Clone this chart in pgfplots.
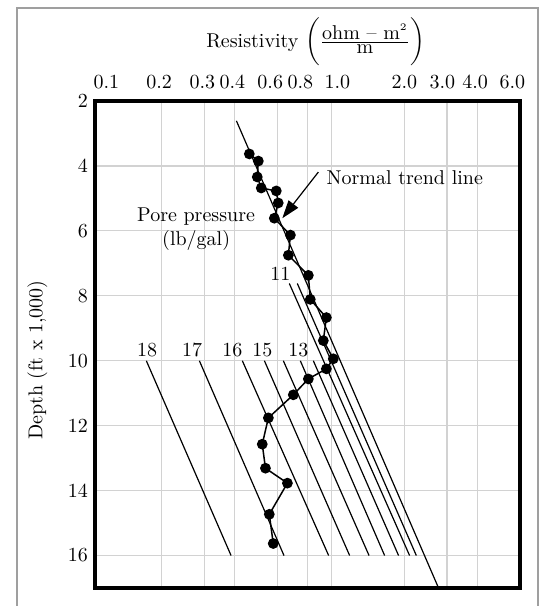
\documentclass[border=0pt]{standalone}
\usepackage{amsmath}
\usepackage{pgfplots}
\pgfplotsset{compat=1.18}
\usetikzlibrary{arrows.meta}
\begin{document}
\begin{tikzpicture}
\useasboundingbox (-47.5pt,-9pt) rectangle (226pt,294pt);
\draw[gray!75, line width=0.8pt] (-39pt,-20pt) -- (-39pt,290pt) -- (221.5pt,290pt) -- (221.5pt,-20pt);
\begin{axis}[
  at={(0,0)}, anchor=south west,
  scale only axis, width=212.5pt, height=243.5pt,
  xmode=log, xmin=0.106, xmax=6.0,
  ymin=2, ymax=17, y dir=reverse,
  xtick={0.2,0.3,0.4,0.6,0.8,1,2,3,4}, xticklabels={},
  extra x ticks={0.118,0.195,0.294,0.391,0.560,0.745,1.059,2.0,2.87,3.92,5.58},
  extra x tick labels={0.1,0.2,0.3,0.4,0.6,0.8,1.0,2.0,3.0,4.0,6.0},
  extra x tick style={grid=none, major tick length=0pt},
  xticklabel pos=upper,
  xticklabel style={yshift=2.5pt},
  ytick={2,4,6,8,10,12,14,16},
  grid=major, major grid style={gray!35, line width=0.6pt},
  major tick length=0pt,
  axis line style={line width=1.6pt},
  tick label style={font=\normalsize},
  ylabel={Depth (ft x 1,000)},
  ylabel style={at={(axis description cs:-0.1353,0.468)}, anchor=center},
  title={Resistivity $\biggl(\frac{\mbox{ohm -- m}^{2}}{\mbox{m}}\biggr)$},
  title style={at={(axis description cs:0.519,1)}, anchor=center, yshift=23.5pt, inner sep=1pt},
  clip=false,
]
% pore pressure lines (lb/gal)
\addplot[black, line width=0.6pt] coordinates {(0.1726,10) (0.386,16)};
\addplot[black, line width=0.6pt] coordinates {(0.2856,10) (0.638,16)};
\addplot[black, line width=0.6pt] coordinates {(0.4295,10) (0.975,16)};
\addplot[black, line width=0.6pt] coordinates {(0.5296,10) (1.190,16)};
\addplot[black, line width=0.6pt] coordinates {(0.634,10) (1.431,16)};
\addplot[black, line width=0.6pt] coordinates {(0.745,10) (1.659,16)};
\addplot[black, line width=0.6pt] coordinates {(0.843,10) (1.894,16)};
\addplot[black, line width=0.6pt] coordinates {(0.671,7.62) (2.103,16)};
\addplot[black, line width=0.6pt] coordinates {(0.724,7.62) (2.242,16)};
% normal trend line
\addplot[black, line width=0.6pt] coordinates {(0.406,2.61) (2.754,16.96)};
% measured resistivity
\addplot[black, line width=0.75pt, mark=*, mark size=2.3pt, mark options={fill=black}] coordinates {
(0.459,3.63) (0.500,3.85) (0.495,4.34) (0.514,4.68) (0.593,4.77) (0.604,5.14)
(0.582,5.61) (0.678,6.13) (0.665,6.75) (0.804,7.37) (0.819,8.11) (0.954,8.67)
(0.927,9.38) (1.019,9.94) (0.954,10.25) (0.804,10.56) (0.697,11.05) (0.550,11.76)
(0.519,12.57) (0.535,13.31) (0.659,13.77) (0.555,14.73) (0.576,15.63)};
% annotations
\node[anchor=west, inner sep=0pt] at (axis cs:0.953,4.37) {Normal trend line};
\draw[-{Triangle[length=9pt,width=6pt]}, line width=0.6pt] (axis cs:0.884,4.19) -- (axis cs:0.628,5.61);
\node[align=center, inner sep=0pt] at (axis cs:0.277,5.95) {Pore pressure\\(lb/gal)};
\node at (axis cs:0.616,7.31) {11};
\node at (axis cs:0.1738,9.66) {18};
\node at (axis cs:0.2664,9.66) {17};
\node at (axis cs:0.391,9.66) {16};
\node at (axis cs:0.519,9.66) {15};
\node at (axis cs:0.731,9.66) {13};
\end{axis}
\end{tikzpicture}
\end{document}
